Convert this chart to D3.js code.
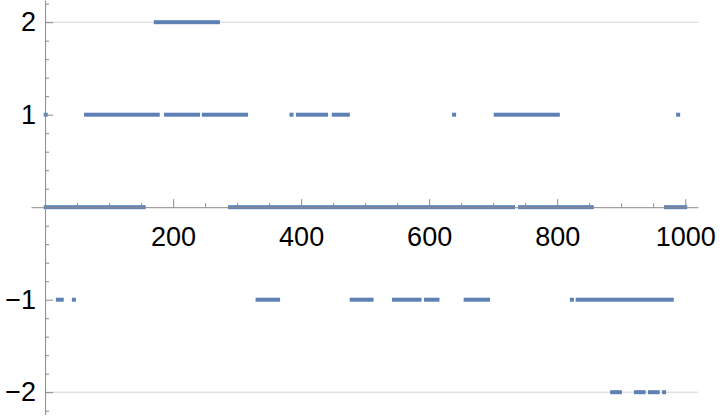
<!DOCTYPE html>
<html>
<head>
<meta charset="utf-8">
<script src="https://cdn.jsdelivr.net/npm/d3@7"></script>
<style>
    body { margin: 0; background: #fff; }
    #chart text { font-family: "Liberation Sans", Arial, sans-serif; }
</style>
</head>
<body>
<div id="chart"></div>
<script>
// runs of consecutive points, [first index, last index], one array per level
const runsLevel2 = [[173, 270]];
const runsLevel1 = [[1, 1], [64, 176], [189, 239], [248, 314], [385, 385], [395, 439],
    [451, 473], [639, 639], [704, 801], [989, 989]];
const runsLevel0 = [[1, 154], [289, 731], [742, 854], [970, 1000]];
const runsLevelM1 = [[20, 26], [45, 45], [332, 364], [479, 510], [545, 585], [595, 613],
    [657, 692], [823, 823], [832, 979]];
const runsLevelM2 = [[886, 898], [923, 935], [945, 957], [967, 967]];

const levels = [2, 1, 0, -1, -2];
const runsByLevel = [runsLevel2, runsLevel1, runsLevel0, runsLevelM1, runsLevelM2];

const xMajorTicks = [200, 400, 600, 800, 1000];
const xMinorTicks = [50, 100, 150, 250, 300, 350, 450, 500, 550, 650, 700, 750, 850, 900, 950];
const yMajorTicks = [-2, -1, 1, 2];
const yMinorTicks = [-2.2, -1.8, -1.6, -1.4, -1.2, -0.8, -0.6, -0.4, -0.2,
    0.2, 0.4, 0.6, 0.8, 1.2, 1.4, 1.6, 1.8, 2.2];
const gridValues = [-2, 2];

const width = 720, height = 418;
const pointSize = 4;
const color = '#5E81B5';

const x = d3.scaleLinear().domain([-22, 1020]).range([31, 698]);
const y = d3.scaleLinear().domain([-2.24, 2.24]).range([414.4, 0]);

const svg = d3.select('#chart').append('svg')
    .attr('width', width)
    .attr('height', height);

// gridlines
svg.append('g')
    .selectAll('line')
    .data(gridValues)
    .join('line')
    .attr('x1', x(0))
    .attr('x2', x(1020))
    .attr('y1', d => y(d))
    .attr('y2', d => y(d))
    .attr('stroke', '#d2d2d2')
    .attr('stroke-width', 1);

// flatten runs into rows of {level, start, end}
const runs = [];
levels.forEach((level, i) => {
    runsByLevel[i].forEach(([start, end]) => runs.push({ level, start, end }));
});

svg.append('g')
    .selectAll('rect')
    .data(runs)
    .join('rect')
    .attr('x', d => x(d.start) - pointSize / 2)
    .attr('width', d => x(d.end) - x(d.start) + pointSize)
    .attr('y', d => y(d.level) - pointSize / 2)
    .attr('height', pointSize)
    .attr('fill', color);

const fmt = d => d < 0 ? '\u2212' + Math.abs(d) : String(d);

function styleAxis(g) {
    g.selectAll('.domain, line').attr('stroke', '#8a8a8a');
    g.selectAll('text').attr('fill', '#000').attr('font-size', 27);
}

// x axis, sits on y = 0
svg.append('g')
    .attr('transform', `translate(0,${y(0)})`)
    .call(d3.axisBottom(x).tickValues(xMinorTicks).tickSizeInner(-4).tickSizeOuter(0).tickFormat(''))
    .call(g => g.select('.domain').remove())
    .call(styleAxis);

svg.append('g')
    .attr('transform', `translate(0,${y(0)})`)
    .call(d3.axisBottom(x).tickValues(xMajorTicks).tickSizeInner(-8).tickSizeOuter(0)
        .tickPadding(20).tickFormat(fmt))
    .call(styleAxis);

// y axis, sits on x = 0
svg.append('g')
    .attr('transform', `translate(${x(0)},0)`)
    .call(d3.axisLeft(y).tickValues(yMinorTicks).tickSizeInner(-4).tickSizeOuter(0).tickFormat(''))
    .call(g => g.select('.domain').remove())
    .call(styleAxis);

svg.append('g')
    .attr('transform', `translate(${x(0)},0)`)
    .call(d3.axisLeft(y).tickValues(yMajorTicks).tickSizeInner(-8).tickSizeOuter(0)
        .tickPadding(9).tickFormat(fmt))
    .call(styleAxis);
</script>
</body>
</html>
